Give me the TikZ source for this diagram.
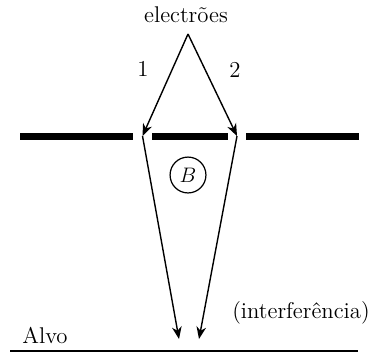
\documentclass[tikz,border=0pt]{standalone}
\usetikzlibrary{positioning,arrows.meta}

\begin{document}
\begin{tikzpicture}[
    x=0.5714pt, y=-0.5714pt,
    >={Stealth[length=7pt,width=5.5pt,inset=2.2pt]},
    every node/.style={font=\fontsize{13}{15}\selectfont, align=center},
    ray/.style={->, line width=0.8pt},
    screen/.style={line width=4pt},
    label/.style={inner sep=1pt}
]
\useasboundingbox (0,0) rectangle (373,353);

% source and rays
\node[label] (src) at (186,15) {electr\~oes};
\coordinate (apex) at (188,34);
\coordinate (slitL) at (142.5,136);
\coordinate (slitR) at (237,136);
\coordinate (hitL) at (179,339);
\coordinate (hitR) at (199,339);

\node[label] (one) at (143,69) {1};
\node[label] (two) at (235,70) {2};

% screen with two slits
\coordinate (barA) at (20,136);
\coordinate (barB) at (133,136);
\coordinate (barC) at (152,136);
\coordinate (barD) at (228,136);
\coordinate (barE) at (246,136);
\coordinate (barF) at (359,136);
\draw[screen] (barA) -- (barB);
\draw[screen] (barC) -- (barD);
\draw[screen] (barE) -- (barF);

\draw[ray] (apex) -- (slitL);
\draw[ray] (apex) -- (slitR);
\draw[ray] (slitL) -- (hitL);
\draw[ray] (slitR) -- (hitR);

\node[draw, circle, inner sep=1pt, minimum size=20.5pt, line width=0.7pt] (bfield) at (188,175) {$B$};

% target
\coordinate (tgtA) at (10,351);
\coordinate (tgtB) at (358,351);
\draw[line width=0.9pt] (tgtA) -- (tgtB);
\node[label] (alvo) at (45,335) {Alvo};
\node[label] (intf) at (301,313) {(interfer\^encia)};
\end{tikzpicture}
\end{document}
